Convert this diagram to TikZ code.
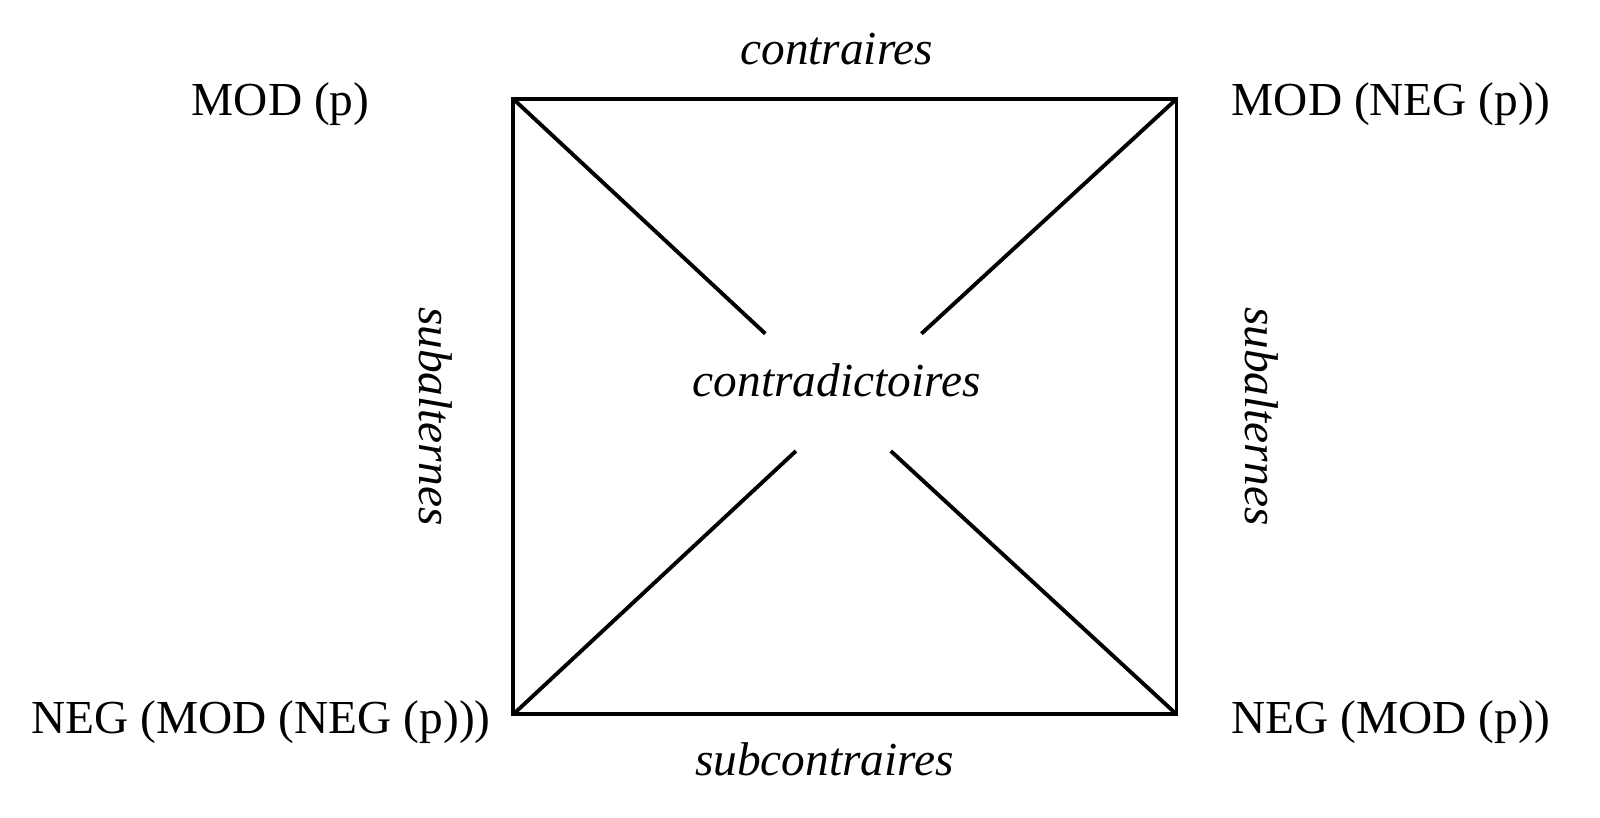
\documentclass[tikz,border=0pt]{standalone}
\usepackage{fontspec}
\setmainfont{Liberation Serif}
\usetikzlibrary{arrows}

\begin{document}
\begin{tikzpicture}[x = 0.5pt, y = -0.5pt, font=\fontsize{23.2}{28}\selectfont]
	\tikzstyle{EdgeStyle} = [line width = 1.9pt]
	\tikzstyle{cornerStyle} = [anchor = base, inner sep = 0pt]
	\tikzstyle{relationStyle} = [anchor = base, inner sep = 0pt, font = \fontsize{23.2}{28}\selectfont\itshape]
	\useasboundingbox (0,0) rectangle (1568,800.7);
	\coordinate (tl) at (503,97);
	\coordinate (tr) at (1153,97);
	\coordinate (bl) at (503,700);
	\coordinate (br) at (1153,700);
	\coordinate (ctl) at (750,327);
	\coordinate (ctr) at (903,327);
	\coordinate (cbl) at (780,442);
	\coordinate (cbr) at (873,442);
	\node[cornerStyle] (mp) at (275,113) {MOD (p)};
	\node[cornerStyle] (mnp) at (1363,113) {MOD (NEG (p))};
	\node[cornerStyle] (nmnp) at (256,719) {NEG (MOD (NEG (p)))};
	\node[cornerStyle] (nmp) at (1363,719) {NEG (MOD (p))};
	\node[relationStyle] (contr) at (820,63) {contraires};
	\node[relationStyle] (subcontr) at (808,760) {subcontraires};
	\node[relationStyle] (contrad) at (820,389) {contradictoires};
	\node[relationStyle, rotate = -90] (subl) at (411,408) {subalternes};
	\node[relationStyle, rotate = -90] (subr) at (1221,408) {subalternes};
	\draw[EdgeStyle] (tl) -- (tr) -- (br) -- (bl) -- cycle;
	\draw[EdgeStyle] (tl) -- (ctl);
	\draw[EdgeStyle] (tr) -- (ctr);
	\draw[EdgeStyle] (bl) -- (cbl);
	\draw[EdgeStyle] (br) -- (cbr);
\end{tikzpicture}
\end{document}
